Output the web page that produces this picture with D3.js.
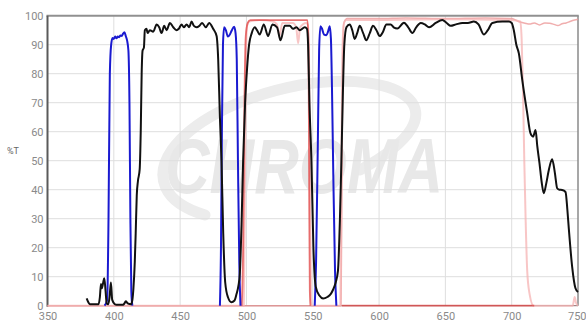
<!DOCTYPE html>
<html><head><meta charset="utf-8">
<script src="https://cdn.jsdelivr.net/npm/d3@7"></script>
<style>html,body{margin:0;padding:0;background:#fff;}svg{display:block;}</style>
</head><body>
<svg id="chart" width="586" height="321"></svg>
<script>
// ---- data ----
const xTicks = [350, 400, 450, 500, 550, 600, 650, 700, 750];
const yTicks = [0, 10, 20, 30, 40, 50, 60, 70, 80, 90, 100];
const yLabel = "%T";

// Excitation (blue), null breaks segments
const excitation = [
  [393,0],[395,2],[396,30],[397,80],[398,90],[399,92.3],[400,92],[401,92.8],[402,92.2],[403,92.8],[404,92.6],[405,93.2],[406,93],[407,93.8],[408,94.3],[409,93],[410,91.5],[411,88],[411.8,70],[412.5,30],[413.2,5],[414,0],[414.5,null],
  [479.5,null],[480,0],[480.8,20],[481.5,60],[482.3,90],[483.2,96],[484.5,95],[486,92.8],[487.5,93.5],[489,95],[490.7,96.2],[491.8,94],[492.7,85],[493.6,50],[494.6,15],[495.5,0],[496,null],
  [551,null],[551.5,0],[552.5,15],[553.8,55],[554.8,88],[555.8,96.4],[557,95.5],[558.5,93.5],[560.3,93.3],[561.5,94.5],[562.8,96.4],[563.7,92],[564.5,75],[565.5,45],[566.8,12],[567.8,0]
];

// Emission (black)
const emission = [
  [379.5,2.5],[381,1],[382,0.5],[388.5,0.5],[389.5,3],[390.3,7.5],[391,6],[392,8],[392.8,9.5],[393.8,5],[394.6,0.8],[395.8,0.5],[396.8,3],[397.8,8],[398.8,2],[400.8,0.5],[402,0.3],[407,0.3],
  [408,0.8],[409,1.5],[410.5,0.8],[413,0.5],[414,2],[414.8,6],[415.8,15],[416.5,25],[417.3,38],[418.2,43],[419.5,47],[420.3,60],[421,80],[421.7,88],[422.7,89],[423.4,95],[424.7,95.5],[425.4,94],[427.2,95],[429.7,94.5],[432.3,97],[434.2,96],[436,94],[438,96.5],[439.8,95],[442.3,97.5],[444.8,96],[447.3,95],[449,95.5],[451.1,97],[452.8,96],[454.9,97],[456.8,96],[458.6,98],[460.4,96.5],[462.5,96],[464.5,96.5],[466.6,97.5],[469.4,96],[471.9,97.5],[474.9,95.5],[477.5,93],
  [478.7,85],[480,65],[481.2,50],[482.5,25],[484,8],[486,3],[488.7,1.2],[491,1.8],[492.5,4],[494,7],[495,11],[496.3,28],[497.5,50],[499,70],[500.5,82],[502,90],[504,94],[506.3,96],
  [508,95],[510,93.5],[513.1,97],[516.3,93],[519.6,97],[523.1,96],[525.7,91.5],[528.9,96.5],[532.7,96.5],[535,95.5],[537.7,96],[540.2,95],[544,96],[545.6,95.5],
  [546.5,90],[547.5,70],[549,50],[550.5,20],[552.3,6.5],[555,3.5],[557.8,2.5],[561,3],[563.5,4],[565.3,5.5],[567.3,8],[569,12],[570.5,30],[571.6,50],[572.8,75],[573.8,90],[575.4,96],
  [577.9,97],[579.8,95],[581.6,92],[583.5,94],[585.4,96.5],[588,94],[590.4,91.5],[593,94],[595.4,96.5],[598,95],[600.5,93],[603,94.5],[605.5,97],[608.8,97],[611,96],[613.8,95.6],[618.8,97.6],[622,96],[625.1,94],[628,96],[631.4,97.5],[634.5,97],[637.7,96],[642.7,97.5],[647.7,98.5],[651,97.5],[654,96.5],[658,97],[662.8,97.5],[667,97.5],[671.5,98],[675,97],[679,93.5],[682,95],[685.4,97.5],[692.9,98],[697.9,98],[700,97.5],[701.6,95],[703.5,90],[705.4,87],
  [708,77.8],[711.7,66.4],[714.2,59.4],[716.2,58.3],[718,60.6],[719.3,55],[721,49],[722.5,43],[724.2,38.8],[726,42],[728,46.8],[730.5,50.5],[732.5,46],[734.3,40.5],[736,40],[738,39.9],[740.6,39.2],[742,33],[743,27],[745.6,13.4],[748.1,6],[750,4.7]
];

// Dichroic-like curves (pale pink, pale red, dark red)
const palePink = [
  [350,0],[498,0],[498.8,40],[499.6,85],[500.5,96.5],[502,98],[510,98.5],[520,98],[523,97],[525,93],[527,97.5],[535,97.5],[537.5,96],[539,90.5],[540.5,96],[545,97.5],[546.3,97],[547.3,80],[548,40],[548.6,5],[549.2,0],
  [570.8,0],[571.5,40],[572.3,85],[573.3,97],[575,98.5],[600,98.5],[650,98.8],[700,98.5],[706.5,98],[707.5,92],[708.5,75],[709.5,50],[710.5,30],[711.7,12],[713.5,4],[716.5,0],[746,0],[747.5,3],[748.5,1],[750,0]
];
const paleRed = [
  [350,0],[571.3,0],[572,40],[572.6,85],[573.5,97.5],[576,99],[600,99],[620,99.2],[650,99],[680,99.2],[700,99],[705,98],[710,97.4],[713.5,97.1],[717,97.5],[721,96.8],[725,97.5],[728.5,97.4],[732,97],[734.8,96.6],[738,97.2],[741,97.5],[744,98],[747.4,98.5],[750,98.8]
];
const darkRed = [
  [496.5,0],[497.5,20],[498.5,70],[499.5,93],[501,97.5],[503,98.5],[546,98.5],[546.8,90],[547.3,40],[547.8,5],[548.3,0],[548.5,null],
  [571.9,null],[572,0],[717,0]
];

// ---- drawing ----
const svg = d3.select("#chart");
const L = 47.5, R = 578, T = 15.7, B = 305.7;
const x = d3.scaleLinear().domain([350, 750]).range([L, R]);
const y = d3.scaleLinear().domain([0, 100]).range([B, T]);

// watermark
const wm = svg.append("g");
wm.append("path")
  .attr("d", "M 205 215 C 120 190, 170 110, 300 85 C 400 68, 470 110, 360 170")
  .attr("fill", "none").attr("stroke", "#ececec").attr("stroke-width", 11).attr("stroke-linecap", "round");
wm.append("text").attr("x", 165).attr("y", 193)
  .attr("font-family", "Liberation Sans, Arial, sans-serif").attr("font-weight", "bold").attr("font-style", "italic")
  .attr("font-size", 78).attr("textLength", 278).attr("lengthAdjust", "spacingAndGlyphs")
  .attr("fill", "#e8e8e8").text("CHROMA");

// grid
svg.append("g").selectAll("line").data(xTicks.slice(1, -1)).join("line")
  .attr("x1", d => x(d)).attr("x2", d => x(d)).attr("y1", T).attr("y2", B)
  .attr("stroke", "#dedede").attr("stroke-width", 1);
svg.append("g").selectAll("line").data(yTicks.slice(1, -1)).join("line")
  .attr("x1", L).attr("x2", R).attr("y1", d => y(d)).attr("y2", d => y(d))
  .attr("stroke", "#dedede").attr("stroke-width", 1);

// frame
svg.append("line").attr("x1", L).attr("x2", R).attr("y1", B).attr("y2", B).attr("stroke", "#8a6a6a").attr("stroke-width", 1);
svg.append("line").attr("x1", R).attr("x2", R).attr("y1", T).attr("y2", B).attr("stroke", "#8a8a8a").attr("stroke-width", 1.5);
svg.append("line").attr("x1", L - 1).attr("x2", R + 0.75).attr("y1", T).attr("y2", T).attr("stroke", "#909090").attr("stroke-width", 2);
svg.append("line").attr("x1", L).attr("x2", L).attr("y1", T).attr("y2", B + 1).attr("stroke", "#5a5a5a").attr("stroke-width", 2);

// axes labels via d3 axes
const yAxis = svg.append("g").attr("transform", `translate(${L - 4},0)`)
  .call(d3.axisLeft(y).tickValues(yTicks).tickSize(0).tickPadding(0));
yAxis.select(".domain").remove();
yAxis.selectAll("text").attr("fill", "#8a8a8a").attr("font-size", 11).attr("font-family", "Roboto, sans-serif");

const xAxis = svg.append("g").attr("transform", `translate(0,${B + 6.3})`)
  .call(d3.axisBottom(x).tickValues(xTicks).tickSize(0).tickPadding(0));
xAxis.select(".domain").remove();
xAxis.selectAll("text").attr("fill", "#8a8a8a").attr("font-size", 11).attr("font-family", "Roboto, sans-serif");
// keep the last label inside the picture
xAxis.selectAll(".tick").filter(d => d === 750).select("text").attr("text-anchor", "end").attr("x", 8);

svg.append("text").attr("x", 13).attr("y", 154).attr("text-anchor", "middle")
  .attr("font-size", 9).attr("font-family", "Roboto, sans-serif").attr("fill", "#666").text(yLabel);

// curves
const line = d3.line().defined(d => d[1] != null).x(d => x(d[0])).y(d => y(d[1])).curve(d3.curveMonotoneX);
const series = [
  {data: paleRed, color: "#ec9a9a", w: 1.5, o: 0.8},
  {data: palePink, color: "#f5b3b3", w: 2, o: 0.75},
  {data: darkRed, color: "#e04545", w: 1.8, o: 0.75},
  {data: excitation, color: "#1a1ad0", w: 2, o: 1},
  {data: emission, color: "#111111", w: 2, o: 1}
];
svg.append("g").selectAll("path").data(series).join("path")
  .attr("d", d => line(d.data)).attr("fill", "none")
  .attr("stroke", d => d.color).attr("stroke-width", d => d.w).attr("stroke-opacity", d => d.o)
  .attr("stroke-linejoin", "round");
</script>
</body></html>
